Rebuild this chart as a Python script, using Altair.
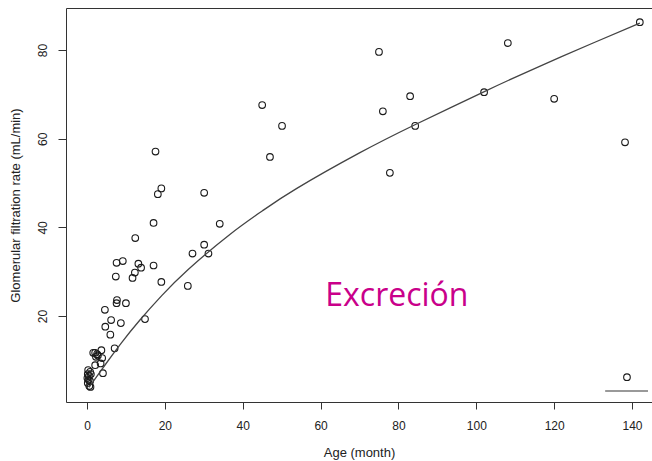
import altair as alt
import pandas as pd

# ---- data ----
age = [142.0, 108.1, 75.0, 102.0, 120.0, 83.0, 76.0, 45.0, 50.1, 84.3, 47.0, 77.8, 138.2, 138.7,
       17.6, 19.1, 18.2, 30.1, 17.1, 34.1, 12.4, 30.1, 27.1, 31.2, 9.2, 7.6, 13.2, 13.9, 17.1,
       12.3, 11.7, 7.4, 19.1, 25.9, 7.7, 7.6, 10.0, 4.6, 14.9, 6.2, 8.7, 4.7, 6.0, 7.1,
       3.7, 1.6, 2.1, 2.6, 2.8, 2.3, 3.9, 2.1, 3.5, 4.1,
       0.3, 0.8, 0.2, 1.0, 0.5, 0.1, 0.4, 0.8, 0.2, 0.6, 0.9]
gfr = [86.3, 81.6, 79.6, 70.5, 69.0, 69.6, 66.2, 67.6, 62.9, 62.9, 55.9, 52.3, 59.2, 6.2,
       57.1, 48.8, 47.5, 47.8, 41.0, 40.8, 37.6, 36.1, 34.1, 34.1, 32.4, 32.0, 31.8, 30.9, 31.4,
       29.8, 28.6, 28.9, 27.7, 26.8, 23.6, 22.9, 22.9, 21.4, 19.3, 19.1, 18.4, 17.6, 15.8, 12.7,
       12.3, 11.7, 11.7, 11.4, 11.1, 10.8, 10.5, 8.9, 9.3, 7.1,
       7.8, 7.4, 6.9, 6.9, 6.5, 6.0, 5.6, 5.3, 4.9, 4.2, 4.0]

fit_age = [0.5, 2.4, 5.0, 8.8, 13.6, 19.2, 26.0, 36.7, 45.0, 53.9, 70.0, 84.1, 102.2, 116.4, 130.0, 142.0]
fit_gfr = [3.9, 6.2, 9.4, 13.9, 19.1, 24.6, 30.5, 38.4, 43.7, 48.8, 56.8, 63.1, 70.7, 76.4, 81.6, 86.1]

seg_age = [133.1]
seg_age2 = [144.1]
seg_gfr = [3.1]

x_ticks = [0, 20, 40, 60, 80, 100, 120, 140]
y_ticks = [20, 40, 60, 80]
x_domain = [-5.39, 145.13]
y_domain = [0.6, 89.5]

label_text = ["Excreción"]
label_age = 79.6
label_gfr = 22.3

pts = pd.DataFrame({"age": age, "gfr": gfr})
fit = pd.DataFrame({"age": fit_age, "gfr": fit_gfr})
seg = pd.DataFrame({"age": seg_age, "age2": seg_age2, "gfr": seg_gfr})
lab = pd.DataFrame({"t": label_text})

FONT = "Liberation Sans"
AX = "#333333"
Y_TITLE = "Glomerular filtration rate (mL/min)"

xs = alt.Scale(domain=x_domain, nice=False, zero=False)
ys = alt.Scale(domain=y_domain, nice=False, zero=False)

x_axis = alt.Axis(values=x_ticks, tickSize=7, labelPadding=11, titlePadding=15,
                  labelFont=FONT, labelFontSize=12, labelColor="#222222",
                  titleFont=FONT, titleFontSize=13, titleFontWeight="normal", titleColor="#222222",
                  domainColor=AX, tickColor=AX, grid=False, labelFlush=False)
y_axis = alt.Axis(values=y_ticks, tickSize=8, labelPadding=9, titlePadding=14,
                  labelAngle=270, labelAlign="center", labelBaseline="bottom",
                  labelFont=FONT, labelFontSize=12, labelColor="#222222",
                  titleFont=FONT, titleFontSize=13, titleFontWeight="normal", titleColor="#222222",
                  domainColor=AX, tickColor=AX, grid=False, labelFlush=False)
top_axis = alt.Axis(orient="top", labels=False, ticks=False, title=None, domainColor=AX, grid=False)

points = alt.Chart(pts).mark_point(shape="circle", filled=False, color="#1a1a1a",
                                   size=44, strokeWidth=1.1, opacity=1, clip=True).encode(
    x=alt.X("age:Q", scale=xs, axis=x_axis, title="Age (month)"),
    y=alt.Y("gfr:Q", scale=ys, axis=y_axis, title=Y_TITLE),
)

line = alt.Chart(fit).mark_line(color="#444444", strokeWidth=1.3, interpolate="natural").encode(
    x=alt.X("age:Q", scale=xs, axis=top_axis),
    y=alt.Y("gfr:Q", scale=ys, axis=y_axis, title=Y_TITLE),
)

segment = alt.Chart(seg).mark_rule(color="#777777", strokeWidth=1.5).encode(
    x=alt.X("age:Q", scale=xs, axis=None),
    x2="age2:Q",
    y=alt.Y("gfr:Q", scale=ys, axis=y_axis, title=Y_TITLE),
)

text = alt.Chart(lab).mark_text(font="Open Sans", fontSize=32, color="#C9008A",
                                align="center", baseline="alphabetic").encode(
    x=alt.XDatum(label_age, type="quantitative", scale=xs, axis=None),
    y=alt.YDatum(label_gfr, type="quantitative", scale=ys, axis=y_axis, title=Y_TITLE),
    text="t:N",
)

chart = alt.layer(points, line, segment, text).resolve_axis(x="independent").properties(
    width=586, height=394,
    autosize=alt.AutoSizeParams(type="none"),
    padding={"left": 66, "top": 8, "right": 0, "bottom": 59},
    background="white",
).configure_view(stroke=None)

chart.save("out.html", embed_options={"renderer": "svg", "actions": False})
